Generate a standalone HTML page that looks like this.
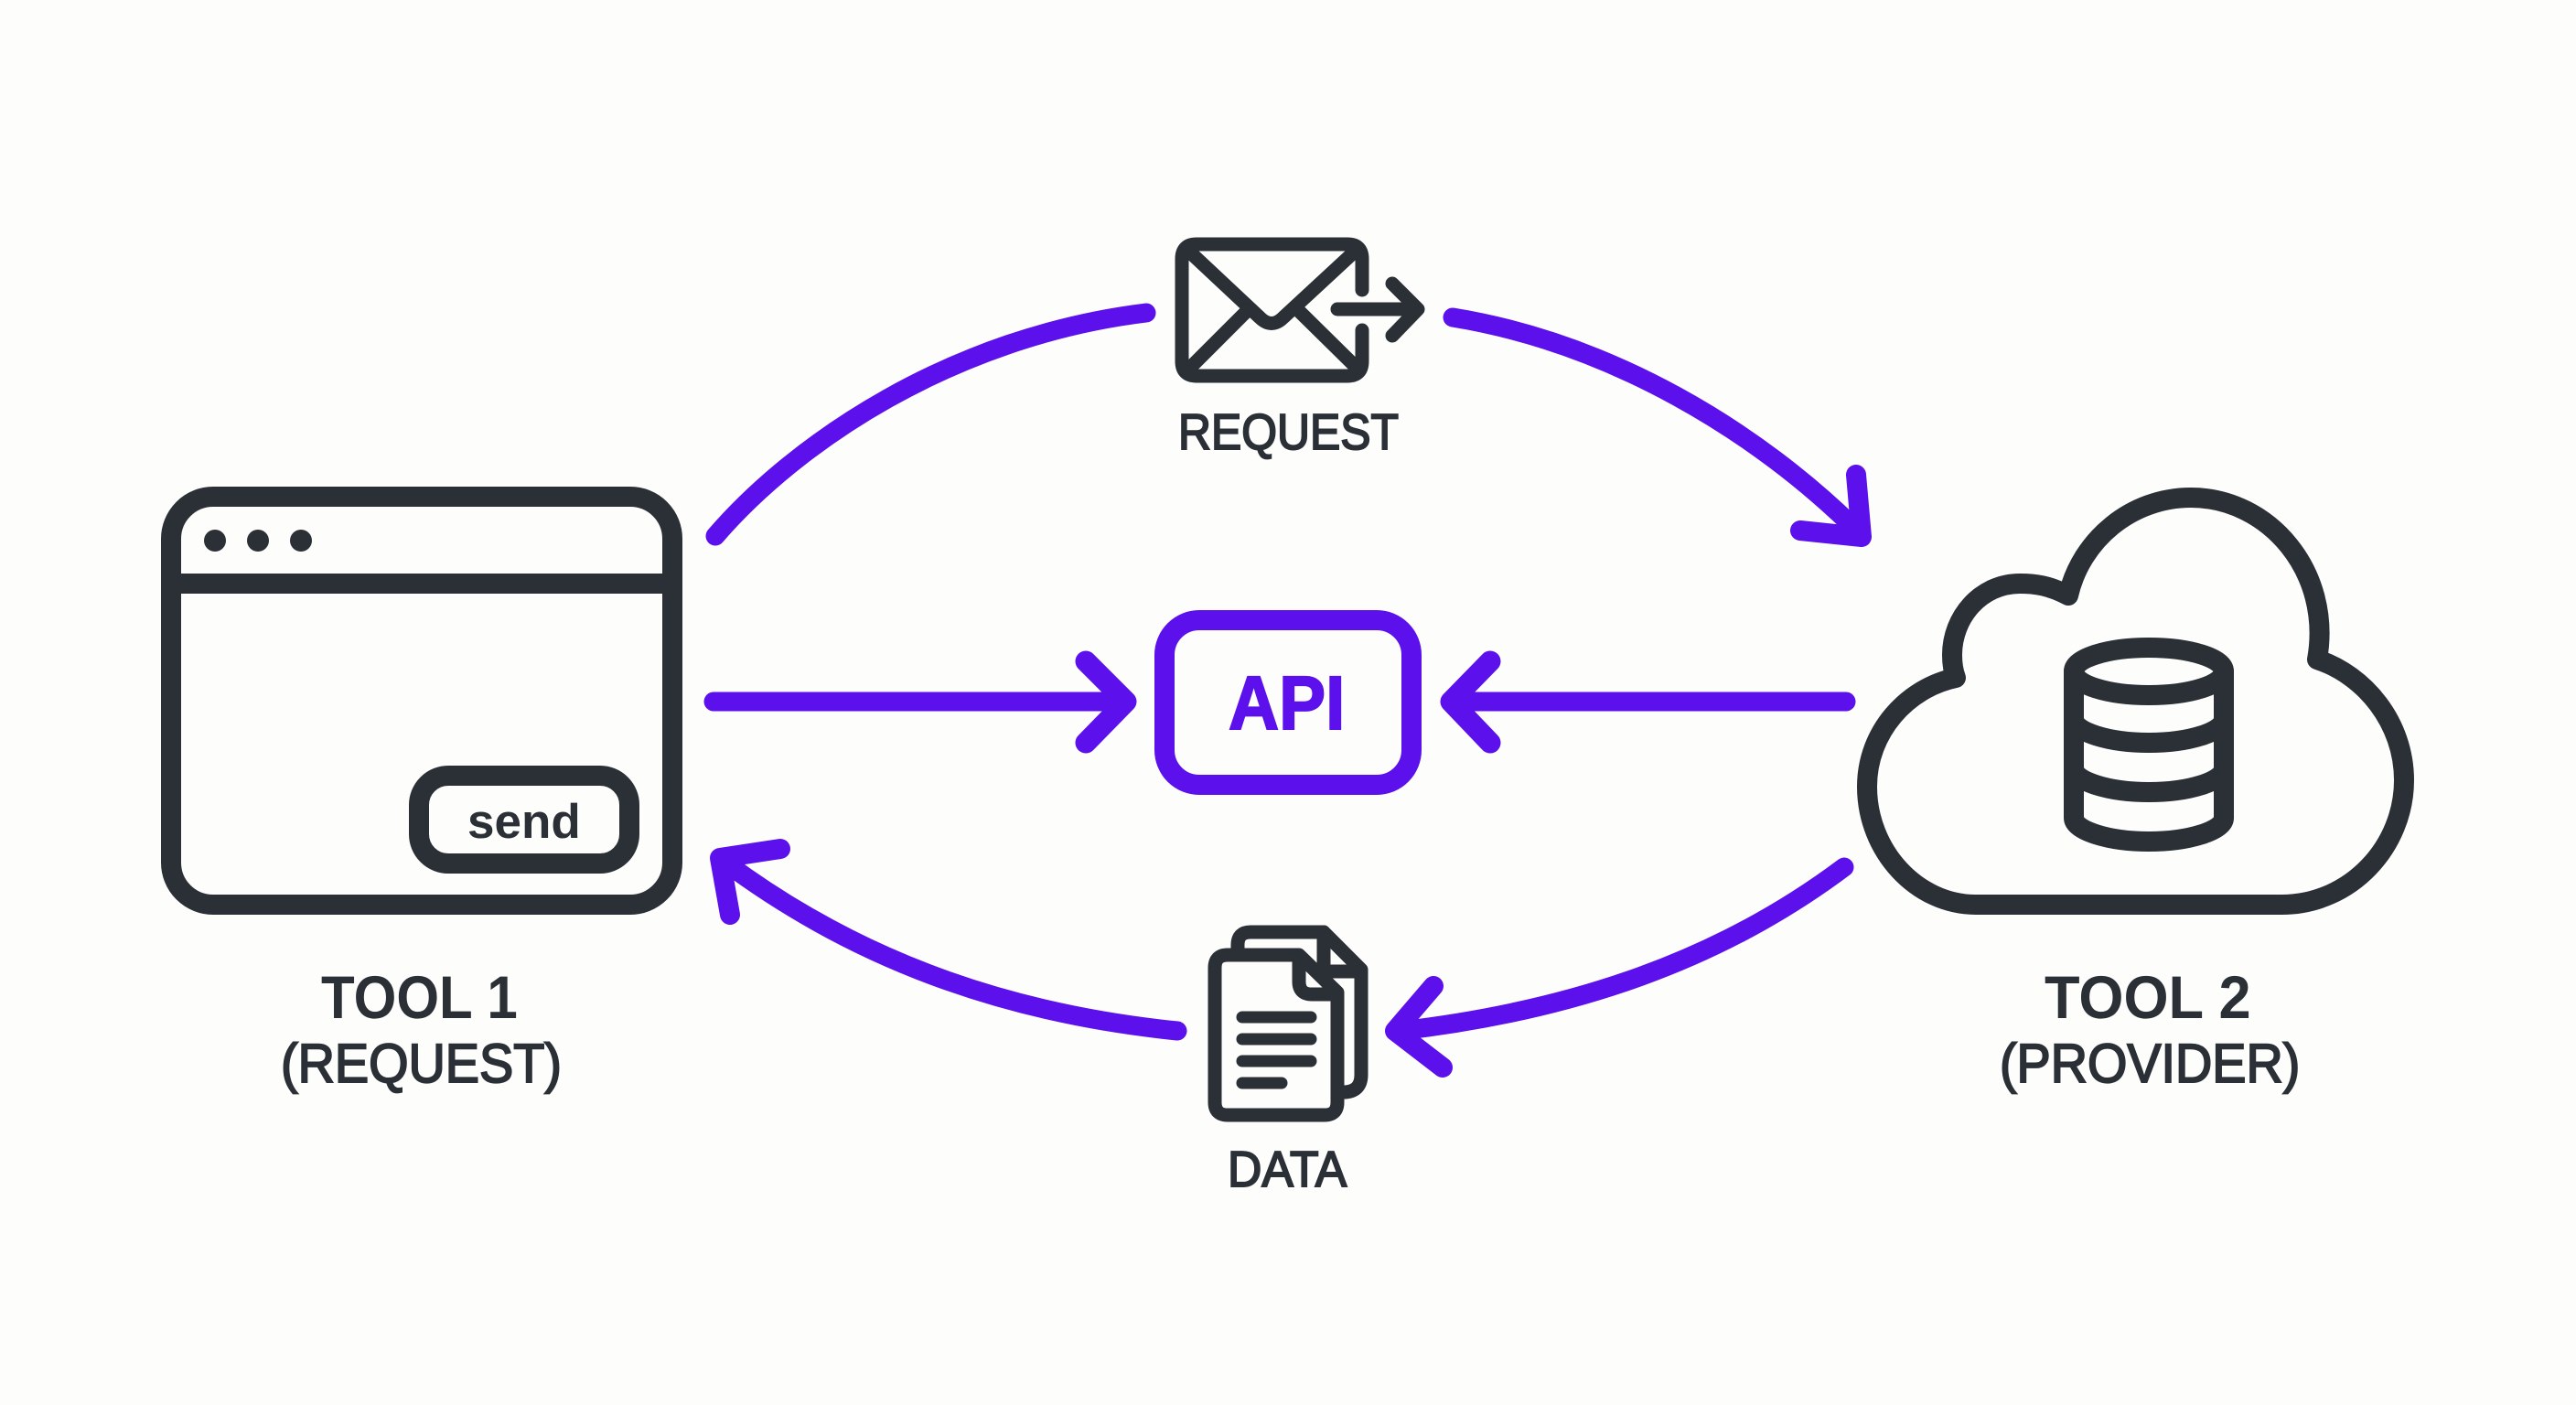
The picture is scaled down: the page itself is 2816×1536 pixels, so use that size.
<!DOCTYPE html>
<html><head><meta charset="utf-8"><style>
html,body{margin:0;padding:0;background:#fdfdfb}
svg{display:block}
text{font-family:"Liberation Sans",sans-serif;fill:#2b2f36;text-rendering:geometricPrecision}
.med{stroke:#2b2f36;stroke-width:2px}
</style></head><body>
<svg width="2816" height="1536" viewBox="0 0 2816 1536" xmlns="http://www.w3.org/2000/svg">
<rect width="2816" height="1536" fill="#fdfdfb"/>
<g fill="none" stroke="#5b10ec" stroke-width="21" stroke-linecap="round" stroke-linejoin="round">
<path d="M782 586C870 484 1040 368 1253 342"/>
<path d="M1588 347C1760 375 1920 470 2033 583"/>
<path d="M2029 519L2035 587L1968 580" stroke-width="22"/>
<path d="M1287 1127C1120 1110 950 1060 792 942"/>
<path d="M853 928L787 938L798 1000" stroke-width="22"/>
<path d="M2016 948C1880 1050 1720 1105 1530 1127"/>
<path d="M1567 1078L1525 1127L1577 1167" stroke-width="22"/>
<path d="M780 767H1225"/>
<path d="M1187 723L1231 767L1187 812" stroke-width="23"/>
<path d="M2018 767H1595"/>
<path d="M1629 723L1586 767L1629 812" stroke-width="23"/>
<rect x="1273" y="678" width="270" height="180" rx="38" stroke-width="22"/>
</g>
<text transform="translate(1343 797) scale(.92 1)" font-size="83" font-weight="700" style="fill:#5b10ec;stroke:#5b10ec;stroke-width:2px">API</text>
<g fill="none" stroke="#2b2f36" stroke-width="22" stroke-linecap="round" stroke-linejoin="round">
<rect x="187" y="543" width="548" height="446" rx="46"/>
<path d="M187 638H735" stroke-linecap="butt"/>
<rect x="458" y="848" width="230" height="96" rx="32"/>
<path d="M2160 989H2494C2570 989 2628 925 2628 853C2628 790 2585 738 2533 721C2550 625 2480 544 2395 544C2330 544 2275 590 2261 651C2240 640 2225 638 2208 638C2165 638 2134 675 2134 716C2134 725 2135 733 2138 741C2085 752 2041 800 2041 860C2041 930 2095 989 2160 989Z"/>
<ellipse cx="2349" cy="734" rx="82" ry="26"/>
<path d="M2267 734V894C2267 908 2305 920 2349 920C2393 920 2431 908 2431 894V734"/>
<path d="M2267 786C2267 800 2305 812 2349 812C2393 812 2431 800 2431 786"/>
<path d="M2267 840C2267 854 2305 866 2349 866C2393 866 2431 854 2431 840"/>
</g>
<g fill="#2b2f36"><circle cx="235" cy="591" r="12"/><circle cx="282" cy="591" r="12"/><circle cx="329" cy="591" r="12"/></g>
<g fill="none" stroke="#2b2f36" stroke-width="15" stroke-linecap="round" stroke-linejoin="round">
<path d="M1489 317V283Q1489 267 1473 267H1308Q1292 267 1292 283V395Q1292 411 1308 411H1473Q1489 411 1489 395V361"/>
<path d="M1298 273L1377 347Q1390 360 1403 347L1483 273"/>
<path d="M1298 405L1363 340M1420 340L1484 403"/>
<path d="M1462 338H1547M1522 310L1550 338L1522 367" stroke-width="15"/>
<path d="M1353 1038V1033Q1353 1019 1367 1019H1447L1488 1060V1175Q1488 1194 1468 1194"/>
<path d="M1447 1019V1062H1488"/>
<path d="M1420 1044H1342Q1328 1044 1328 1058V1205Q1328 1219 1342 1219H1448Q1462 1219 1462 1205V1085L1420 1044V1073Q1420 1087 1434 1087H1462"/>
<path d="M1358 1112H1433M1358 1136H1433M1358 1160H1433M1358 1184H1401" stroke-width="13"/>
</g>
<text x="511" y="916" font-size="53" font-weight="700">send</text>
<text transform="translate(351 1113) scale(.91 1)" font-size="66" font-weight="700">TOOL 1</text>
<text class="med" transform="translate(307 1183) scale(.93 1)" font-size="60">(REQUEST)</text>
<text transform="translate(2235 1113) scale(.956 1)" font-size="66" font-weight="700">TOOL 2</text>
<text class="med" transform="translate(2186 1183) scale(.929 1)" font-size="60">(PROVIDER)</text>
<text class="med" transform="translate(1288 491) scale(.906 1)" font-size="55">REQUEST</text>
<text class="med" transform="translate(1342 1297) scale(.94 1)" font-size="55">DATA</text>
</svg>
</body></html>
